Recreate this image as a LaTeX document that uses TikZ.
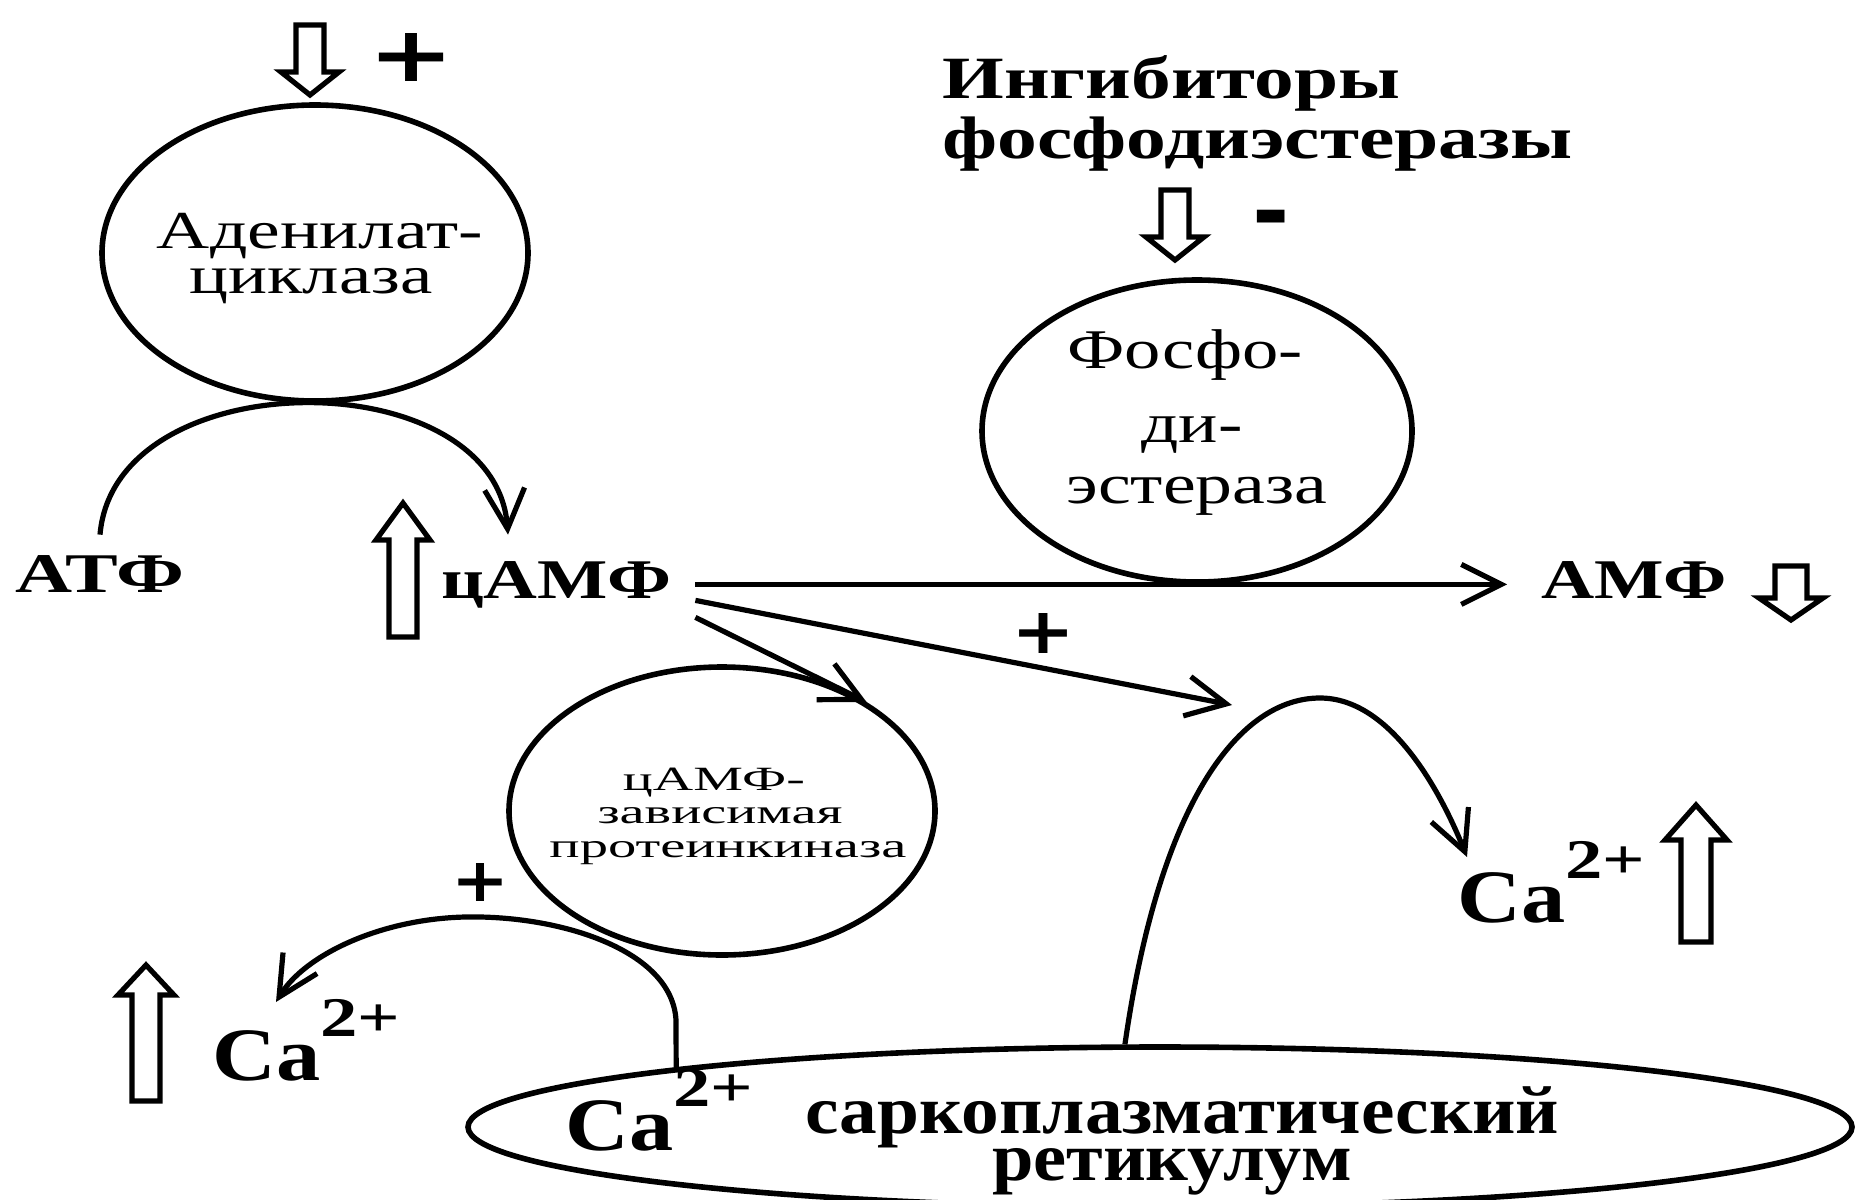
\documentclass[tikz,border=0pt]{standalone}
\usepackage{fontspec}
\usepackage{graphicx}
\setmainfont{Liberation Serif}
\newfontfamily\signfont{DejaVu Sans}
\usetikzlibrary{arrows.meta,shapes.geometric}
\newcommand\fitw[2]{\resizebox{#1}{\height}{#2}}
\newcommand\nodp[1]{\raisebox{0pt}[\height][0pt]{#1}}
\newcommand\caion{{\fontsize{37.7pt}{40pt}\selectfont\bfseries\fitw{54pt}{Ca}\raisebox{22pt}{\fontsize{28pt}{30pt}\selectfont\fitw{40pt}{2+}}}}
\newcommand\hollowarrow[6]{%
  \draw[harrow] ({#1-#5/2},#2) -- ({#1-#5/2},#3) -- ({#1-#6/2},#3) -- (#1,#4) -- ({#1+#6/2},#3) -- ({#1+#5/2},#3) -- ({#1+#5/2},#2) -- cycle;}
\tikzset{
  enz/.style={ellipse, draw, line width=2.8pt, inner sep=0pt},
  conn/.style={line width=2.6pt, -{Straight Barb[length=20pt,width=20pt]}},
  harrow/.style={draw, line width=2.6pt, fill=white, line join=miter},
  lbl/.style={inner sep=0pt, anchor=base},
  enzA/.style={lbl, font=\fontsize{26.7pt}{28pt}\selectfont},
  enzB/.style={lbl, font=\fontsize{28pt}{30pt}\selectfont},
  enzC/.style={lbl, font=\fontsize{17pt}{18pt}\selectfont},
  boldA/.style={lbl, font=\fontsize{28pt}{30pt}\selectfont\bfseries},
  boldB/.style={lbl, font=\fontsize{30pt}{32pt}\selectfont\bfseries},
  boldC/.style={lbl, font=\fontsize{34pt}{36pt}\selectfont\bfseries},
  ion/.style={inner sep=0pt, anchor=base west},
  sign/.style={inner sep=0pt, font=\signfont\bfseries},
}
\begin{document}
\begin{tikzpicture}[x=0.5pt,y=-0.5pt]
\fill[white] (0,0) rectangle (1857,1199);
\clip (0,0) rectangle (1857,1199);

% enzymes (ellipses)
\node[enz, minimum width=213pt, minimum height=148pt] (ac) at (315,253) {};
\node[enz, minimum width=215pt, minimum height=151pt] (pde) at (1197,431) {};
\node[enz, minimum width=213pt, minimum height=144pt] (pk) at (722,811) {};
\node[enz, minimum width=692pt, minimum height=80pt] (sr) at (1160,1127) {};

% enzyme texts
\node[enzA] (ac1) at (320,248) {\nodp{\fitw{163pt}{Аденилат-}}};
\node[enzA] (ac2) at (311,293) {\fitw{121.5pt}{циклаза}};
\node[enzB] (pde1) at (1185,368) {\fitw{118pt}{Фосфо-}};
\node[enzB] (pde2) at (1192,442) {\fitw{50.5pt}{ди-}};
\node[enzB] (pde3) at (1197,503) {\fitw{130.5pt}{эстераза}};
\node[enzC] (pk1) at (714,790) {\nodp{\fitw{91pt}{цАМФ-}}};
\node[enzC] (pk2) at (720,823) {\fitw{122.5pt}{зависимая}};
\node[enzC] (pk3) at (728,857) {\fitw{178.5pt}{протеинкиназа}};

% bold labels
\node[boldA] (atf) at (100,592) {\fitw{84.5pt}{АТФ}};
\node[boldA] (camp) at (556,598) {\fitw{115pt}{цАМФ}};
\node[boldA] (amp) at (1634,598) {\fitw{92.5pt}{АМФ}};
\node[boldB, anchor=base west] (inh1) at (942,98) {\nodp{\fitw{229pt}{Ингибиторы}}};
\node[boldB, anchor=base west] (inh2) at (942,158) {\fitw{315pt}{фосфодиэстеразы}};
\node[boldC, anchor=base west] (sr1) at (805,1133) {\nodp{\fitw{377pt}{саркоплазматический}}};
\node[boldC] (sr2) at (1172,1180) {\fitw{180pt}{ретикулум}};

% calcium ions
\node[ion] (caL) at (212,1080) {\caion};
\node[ion] (caR) at (1457,922) {\caion};
\node[ion] (caS) at (565,1150) {\caion};

% signs
\node[sign] (p1) at (411,57) {\resizebox{43pt}{24pt}{+}};
\node[sign] (p2) at (1043,633) {\resizebox{32pt}{20pt}{+}};
\node[sign] (p3) at (480,882) {\resizebox{29pt}{19pt}{+}};
\node[sign, anchor=base, font=\fontsize{45pt}{45pt}\signfont\bfseries] (m1) at (1271,242) {-};

% hollow arrows
\hollowarrow{310}{25}{72}{95}{28}{58}
\hollowarrow{1175}{190}{237}{260}{28}{58}
\hollowarrow{1791}{566}{598}{620}{32}{64}
\hollowarrow{403}{637}{540}{503}{28}{54}
\hollowarrow{146}{1101}{995}{965}{28}{56}
\hollowarrow{1696}{942}{840}{805}{30}{62}

% connectors
\coordinate (srin) at (1232,705);
\draw[conn] ([yshift=10pt]atf.north) .. controls (115,360) and (495,360) .. ([xshift=-24pt,yshift=13pt]camp.north);
\draw[conn] ([xshift=12pt]camp.east) -- ([xshift=-17pt]camp.east -| amp.west);
\draw[conn] ([xshift=12pt,yshift=-8pt]camp.east) -- (srin);
\draw[conn] ([xshift=12pt,yshift=-16.5pt]camp.east) -- (pk.37);
\draw[conn] (sr.113) .. controls (1160,800) and (1240,698) .. (1320,698) .. controls (1390,698) and (1440,790) .. ([xshift=5pt,yshift=32.5pt]caR.base west);
\draw[conn] (sr.173.2) -- (676,1020) .. controls (672,950) and (560,915) .. (465,917) .. controls (380,919) and (305,955) .. ([xshift=32pt,yshift=39pt]caL.base west);
\end{tikzpicture}
\end{document}
